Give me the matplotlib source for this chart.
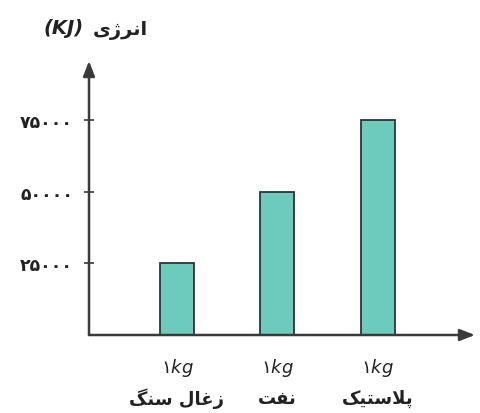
import matplotlib
matplotlib.use('Agg')
import matplotlib.pyplot as plt

# data
categories = ['زغال سنگ', 'نفت', 'پلاستیک']
mass_label = '۱$kg$'
energy = [25000, 50000, 75000]
yticks = [25000, 50000, 75000]
ytick_labels = ['۲۵۰۰۰', '۵۰۰۰۰', '۷۵۰۰۰']
ylabel = 'انرژی'
ylabel_unit = '(KJ)'

# presentation forms: letter -> (isolated, final, initial, medial)
FORMS = {
    'ا': ('\ufe8d', '\ufe8e', None, None),
    'ر': ('\ufead', '\ufeae', None, None),
    'ز': ('\ufeaf', '\ufeb0', None, None),
    'ژ': ('\ufb8a', '\ufb8b', None, None),
    'ن': ('\ufee5', '\ufee6', '\ufee7', '\ufee8'),
    'ی': ('\ufbfc', '\ufbfd', '\ufbfe', '\ufbff'),
    'غ': ('\ufecd', '\ufece', '\ufecf', '\ufed0'),
    'ل': ('\ufedd', '\ufede', '\ufedf', '\ufee0'),
    'س': ('\ufeb1', '\ufeb2', '\ufeb3', '\ufeb4'),
    'گ': ('\ufb92', '\ufb93', '\ufb94', '\ufb95'),
    'ف': ('\ufed1', '\ufed2', '\ufed3', '\ufed4'),
    'ت': ('\ufe95', '\ufe96', '\ufe97', '\ufe98'),
    'پ': ('\ufb56', '\ufb57', '\ufb58', '\ufb59'),
    'ک': ('\ufb8e', '\ufb8f', '\ufb90', '\ufb91'),
}


def shape(s):
    # join the letters and put them in visual (left to right) order
    out = []
    i = 0
    while i < len(s):
        c = s[i]
        if c not in FORMS:
            out.append(c)
            i += 1
            continue
        prev = s[i - 1] if i > 0 else ''
        joins_prev = prev in FORMS and FORMS[prev][2] is not None
        if c == 'ل' and i + 1 < len(s) and s[i + 1] == 'ا':
            out.append('\ufefc' if joins_prev else '\ufefb')
            i += 2
            continue
        nxt = s[i + 1] if i + 1 < len(s) else ''
        joins_next = FORMS[c][2] is not None and nxt in FORMS
        f = FORMS[c]
        if joins_prev and joins_next:
            out.append(f[3])
        elif joins_prev:
            out.append(f[1])
        elif joins_next:
            out.append(f[2])
        else:
            out.append(f[0])
        i += 1
    return ''.join(reversed(out))


plt.rcParams['font.family'] = ['DejaVu Sans']
dark = '#3a3a3a'
txt = '#222222'

fig = plt.figure(figsize=(4.8, 4.14), dpi=100)
ax = fig.add_axes([89 / 480, 78 / 414, 386 / 480, 274 / 414])

x = range(1, len(categories) + 1)
ax.bar(x, energy, width=0.34, color='#6dcbbd', edgecolor='#333333', linewidth=1.3)

ax.set_xlim(0.124, 3.97)
ax.set_ylim(0, 95800)
for s in ['top', 'right', 'left', 'bottom']:
    ax.spines[s].set_visible(False)

# axes with arrows
arrow = dict(arrowstyle='-|>,head_length=0.9,head_width=0.35',
             color=dark, lw=1.8, shrinkA=0, shrinkB=0)
ax.annotate('', xy=(1, 0), xytext=(0, 0), xycoords='axes fraction', arrowprops=arrow)
ax.annotate('', xy=(0, 1), xytext=(0, 0), xycoords='axes fraction', arrowprops=arrow)

ax.set_yticks(yticks)
ax.set_yticklabels(ytick_labels, fontsize=12.5, fontweight='bold', color=txt)
ax.tick_params(axis='y', direction='inout', length=7, width=1.2, color=dark, pad=8)
ax.set_xticks([])

for xi, name in zip(x, categories):
    ax.annotate(mass_label, xy=(xi, 0), xycoords=('data', 'axes fraction'),
                xytext=(0, -32), textcoords='offset pixels', ha='center', va='center',
                fontsize=13, color=txt)
    ax.annotate(shape(name), xy=(xi, 0), xycoords=('data', 'axes fraction'),
                xytext=(0, -63), textcoords='offset pixels', ha='center', va='center',
                fontsize=13, fontweight='bold', color=txt)

fig.text(148 / 480, 1 - 30 / 414, shape(ylabel), ha='right', va='center',
         fontsize=14, fontweight='bold', color=txt)
fig.text(84 / 480, 1 - 28 / 414, ylabel_unit, ha='right', va='center',
         fontsize=14, fontweight='bold', style='italic', color=txt)

fig.savefig('out.png')
